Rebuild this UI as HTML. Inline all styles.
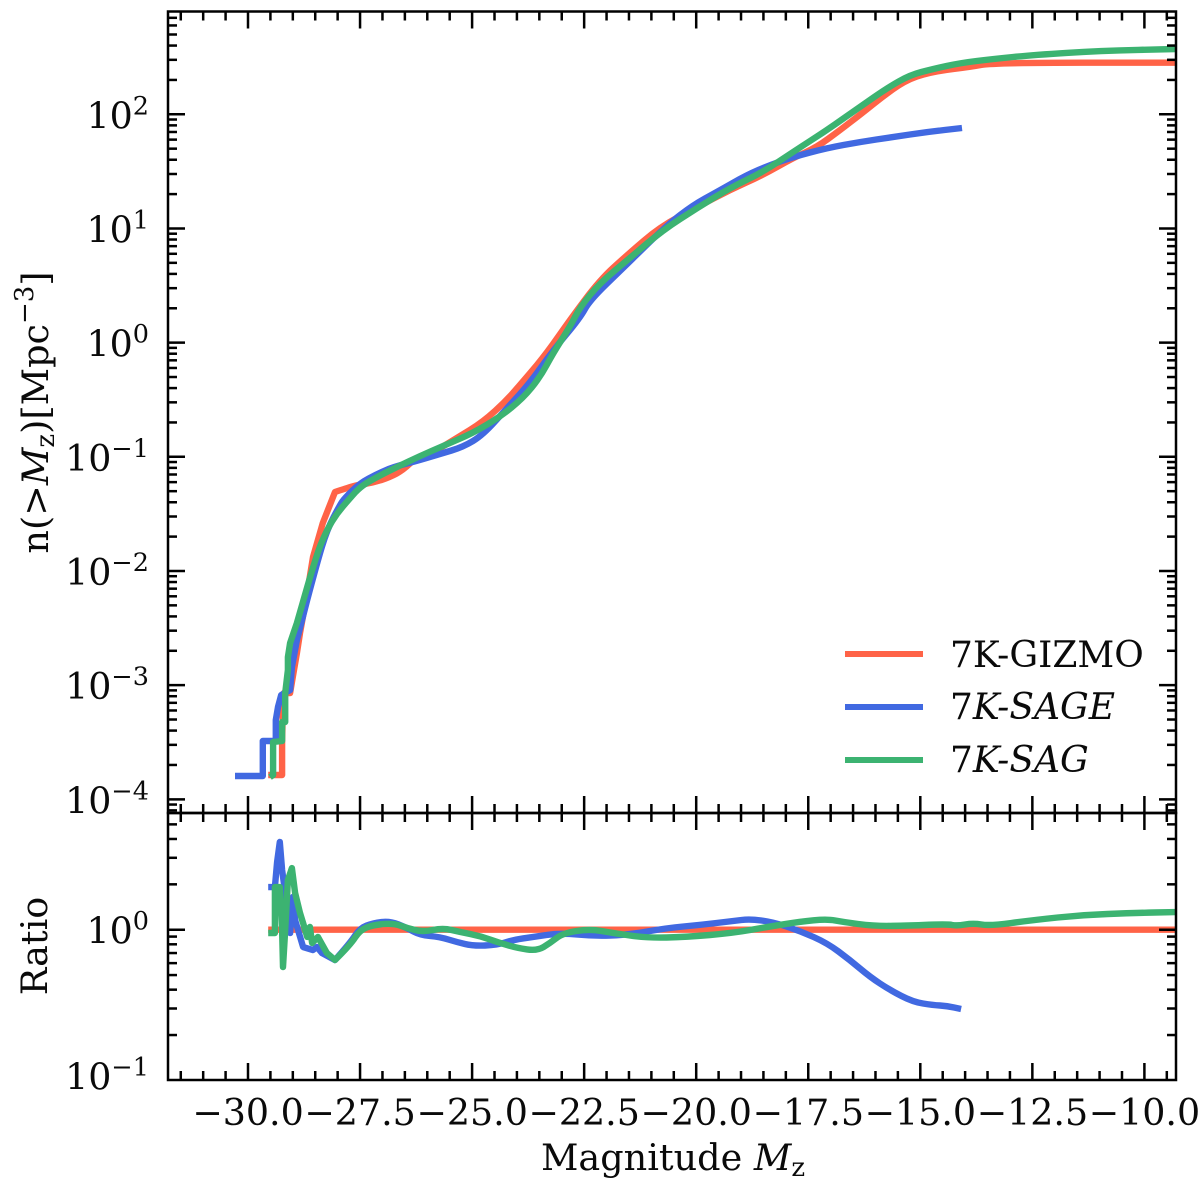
<!DOCTYPE html>
<html lang="en">
<head>
<meta charset="utf-8">
<title>Cumulative magnitude function chart</title>
<style>
  html, body { margin: 0; padding: 0; background: #fff; }
  #chart { display: block; width: 1200px; height: 1187px; font-family: "DejaVu Serif", "Liberation Serif", serif; fill: #000; }
  #chart text { fill: #0a0a0a; }
</style>
</head>
<body>
<svg id="chart" xmlns="http://www.w3.org/2000/svg" width="1200" height="1187" viewBox="0 0 1200 1187">
  <defs>
    <clipPath id="clip-main"><rect x="168" y="11.5" width="1008" height="801.5"></rect></clipPath>
    <clipPath id="clip-ratio"><rect x="168" y="813" width="1008" height="267"></rect></clipPath>
  </defs>
  <g id="main-series" clip-path="url(#clip-main)"></g>
  <g id="ratio-series" clip-path="url(#clip-ratio)"></g>
  <g id="ticks"></g>
  <rect x="168" y="11.5" width="1008" height="801.5" fill="none" stroke="#000" stroke-width="2.5"></rect>
  <rect x="168" y="813" width="1008" height="267" fill="none" stroke="#000" stroke-width="2.5"></rect>
  <g id="tick-labels"></g>

  <text transform="translate(48,412.5) rotate(-90)" text-anchor="middle" font-size="36.6">n(&gt;<tspan font-style="italic">M</tspan><tspan font-size="26" dy="6">z</tspan><tspan dy="-6">)[Mpc</tspan><tspan font-size="26" dy="-15">−3</tspan><tspan dy="15">]</tspan></text>
  <text transform="translate(47,946) rotate(-90)" text-anchor="middle" font-size="36.6">Ratio</text>
  <text x="673" y="1170" text-anchor="middle" font-size="36.6">Magnitude <tspan font-style="italic">M</tspan><tspan font-size="26" dy="6">z</tspan></text>

  <g>
    <g>
      <line x1="845" y1="654" x2="923" y2="654" stroke="#FF6347" stroke-width="6"></line>
      <text x="950" y="667" font-size="36">7K-GIZMO</text>
    </g>
    <g>
      <line x1="845" y1="707" x2="923" y2="707" stroke="#4169E1" stroke-width="6"></line>
      <text x="950" y="719" font-size="36">7<tspan font-style="italic">K-SAGE</tspan></text>
    </g>
    <g>
      <line x1="845" y1="760" x2="923" y2="760" stroke="#3CB371" stroke-width="6"></line>
      <text x="950" y="772" font-size="36">7<tspan font-style="italic">K-SAG</tspan></text>
    </g>
  </g>
</svg>
<script>
// ---- tick data ----
const xMajorTicks = [-30, -27.5, -25, -22.5, -20, -17.5, -15, -12.5, -10];
const xTickLabels = ['−30.0', '−27.5', '−25.0', '−22.5', '−20.0', '−17.5', '−15.0', '−12.5', '−10.0'];
const mainDecades = [-4, -3, -2, -1, 0, 1, 2];
const mainDecadeLabels = ['−4', '−3', '−2', '−1', '0', '1', '2'];
const ratioDecades = [-1, 0];
const ratioDecadeLabels = ['−1', '0'];

// ---- main panel: magnitude and log10 n(>Mz) ----
const gizmoMag = [-29.55,-29.24,-29.24,-29.22,-29.2,-29.06,-29,-28.91,-28.84,-28.68,-28.55,-28.33,-28.06,-27.79,-27.57,-27.21,-26.83,-26.54,-26.23,-25.78,-25.34,-24.76,-24.22,-23.78,-23.33,-22.82,-22.15,-21.54,-20.81,-19.98,-19.25,-18.51,-17.84,-17.3,-16.79,-16.35,-15.74,-15.23,-14.63,-13.89,-13.38,-9.3];
const gizmoLogN = [-3.787,-3.787,-3.489,-3.174,-3.069,-3.069,-2.929,-2.719,-2.544,-2.193,-1.878,-1.58,-1.308,-1.273,-1.247,-1.227,-1.177,-1.116,-1.002,-0.941,-0.835,-0.695,-0.503,-0.301,-0.091,0.198,0.549,0.768,1.013,1.188,1.337,1.468,1.617,1.714,1.862,1.994,2.187,2.318,2.379,2.414,2.452,2.452];

const sageMag = [-30.29,-29.67,-29.67,-29.38,-29.38,-29.33,-29.26,-29.06,-29.02,-28.91,-28.68,-28.46,-28.24,-27.95,-27.84,-27.5,-27.12,-26.76,-26.32,-25.72,-25.2,-24.76,-24.22,-23.71,-23.19,-22.59,-22.37,-21.63,-20.65,-20.07,-19.54,-18.87,-18.35,-17.84,-17.08,-16.35,-15.61,-14.85,-14.07];
const sageLogN = [-3.796,-3.796,-3.489,-3.489,-3.305,-3.191,-3.086,-3.043,-2.841,-2.605,-2.254,-1.93,-1.641,-1.422,-1.361,-1.23,-1.151,-1.089,-1.046,-0.976,-0.914,-0.809,-0.573,-0.354,-0.065,0.216,0.373,0.654,1.03,1.206,1.319,1.468,1.556,1.626,1.705,1.757,1.801,1.845,1.88];

const sagMag = [-29.51,-29.44,-29.44,-29.24,-29.24,-29.17,-29.17,-29.11,-29.11,-29.06,-28.91,-28.68,-28.46,-28.24,-28.01,-27.72,-27.5,-27.21,-26.68,-26.16,-25.65,-24.98,-24.38,-23.86,-23.48,-23.19,-22.82,-22.59,-22.15,-21.48,-20.74,-19.98,-19.25,-18.51,-17.84,-17.08,-16.35,-15.74,-15.23,-14.72,-14.11,-13.38,-12.49,-10.99,-9.3];
const sagLogN = [-3.805,-3.787,-3.498,-3.489,-3.323,-3.323,-3.069,-2.867,-2.754,-2.631,-2.456,-2.141,-1.843,-1.641,-1.492,-1.361,-1.265,-1.195,-1.089,-0.993,-0.905,-0.792,-0.651,-0.485,-0.301,-0.091,0.137,0.312,0.522,0.741,0.987,1.179,1.354,1.495,1.67,1.862,2.064,2.23,2.344,2.397,2.449,2.484,2.519,2.557,2.572];

// ---- ratio panel: magnitude and log10 ratio ----
const gizmoRatioMag = [-29.55, -9.3];
const gizmoRatioLog = [0, 0];

const sageRatioMag = [-29.55,-29.4,-29.35,-29.29,-29.24,-29.17,-29.06,-29,-28.95,-28.77,-28.55,-28.46,-28.35,-28.06,-27.72,-27.5,-27.21,-26.83,-26.45,-26.16,-25.72,-25.34,-24.98,-24.44,-24.09,-23.64,-23.04,-22.3,-21.54,-20.65,-19.92,-19.18,-18.8,-18.29,-17.68,-17.08,-16.57,-16.12,-15.68,-15.16,-14.72,-14.4,-14.09];
const sageRatioLog = [0.283,0.283,0.449,0.582,0.396,0.244,-0.022,0.217,0.064,-0.115,-0.135,-0.115,-0.155,-0.201,-0.088,0.011,0.044,0.058,0.011,-0.035,-0.048,-0.082,-0.108,-0.102,-0.068,-0.048,-0.022,-0.042,-0.035,0.011,0.031,0.058,0.071,0.051,-0.009,-0.088,-0.201,-0.314,-0.4,-0.48,-0.5,-0.506,-0.526];

const sagRatioMag = [-29.55,-29.4,-29.4,-29.29,-29.24,-29.22,-29.17,-29.11,-29.02,-28.95,-28.84,-28.77,-28.68,-28.62,-28.57,-28.44,-28.24,-28.06,-27.72,-27.5,-27.21,-26.76,-26.45,-26.1,-25.65,-25.27,-24.82,-24.38,-24,-23.55,-23.26,-22.97,-22.37,-21.86,-21.1,-20.21,-19.18,-18.42,-17.68,-17.08,-16.72,-16.05,-15.45,-14.4,-14.18,-13.82,-13.45,-12.49,-11.38,-10.26,-9.3];
const sagRatioLog = [-0.022,-0.022,0.283,0.283,-0.002,-0.248,-0.002,0.33,0.409,0.244,0.111,0.044,-0.048,0.018,-0.088,-0.048,-0.155,-0.201,-0.102,-0.002,0.031,0.044,0.011,-0.015,0.011,-0.015,-0.042,-0.088,-0.121,-0.141,-0.088,-0.022,0.005,-0.022,-0.055,-0.048,-0.022,0.018,0.054,0.071,0.051,0.025,0.025,0.038,0.025,0.044,0.025,0.064,0.098,0.111,0.117];

// ---- axes ----
function xScale(m) { return 248 + (m + 30) * 44.82; }
function yMain(l) { return 114.3 + (2 - l) * 114.17; }
function yRatio(l) { return 929.7 - l * 150.7; }

const NS = 'http://www.w3.org/2000/svg';
const tickGroup = document.getElementById('ticks');
const labelGroup = document.getElementById('tick-labels');

function addTick(name, x1, y1, x2, y2) {
  const el = document.createElementNS(NS, 'line');
  
  
  el.setAttribute('x1', x1);
  el.setAttribute('y1', y1);
  el.setAttribute('x2', x2);
  el.setAttribute('y2', y2);
  el.setAttribute('stroke', '#000');
  el.setAttribute('stroke-width', '2.5');
  tickGroup.appendChild(el);
}

// Straight segments through the noisy bright end, smoothed through the rest.
function buildPath(xs, ys, yFn, smoothFrom) {
  const px = xs.map(xScale);
  const py = ys.map(yFn);
  let d = 'M' + px[0].toFixed(1) + ' ' + py[0].toFixed(1);
  for (let i = 1; i < px.length; i++) {
    if (xs[i] < smoothFrom || i === px.length - 1) {
      d += 'L' + px[i].toFixed(1) + ' ' + py[i].toFixed(1);
    } else {
      const mx = (px[i] + px[i + 1]) / 2;
      const my = (py[i] + py[i + 1]) / 2;
      d += 'Q' + px[i].toFixed(1) + ' ' + py[i].toFixed(1) + ' ' + mx.toFixed(1) + ' ' + my.toFixed(1);
    }
  }
  return d;
}

function addSeries(parentId, name, color, xs, ys, yFn, smoothFrom) {
  const el = document.createElementNS(NS, 'path');
  
  
  el.setAttribute('d', buildPath(xs, ys, yFn, smoothFrom));
  el.setAttribute('fill', 'none');
  el.setAttribute('stroke', color);
  el.setAttribute('stroke-width', '6.4');
  el.setAttribute('stroke-linejoin', 'round');
  el.setAttribute('stroke-linecap', 'butt');
  document.getElementById(parentId).appendChild(el);
}

// x ticks on all panel edges
function drawXTicks(pos, len) {
  addTick('x-tick-main-top', pos, 11.5, pos, 11.5 + len);
  addTick('x-tick-main-bottom', pos, 813, pos, 813 - len);
  addTick('x-tick-ratio-top', pos, 813, pos, 813 + len);
  addTick('x-tick-ratio-bottom', pos, 1080, pos, 1080 - len);
}
xMajorTicks.forEach(function (m) { drawXTicks(xScale(m), 17); });
for (let k = -63; k <= -19; k++) {
  const m = k / 2;
  if (xMajorTicks.indexOf(m) === -1) { drawXTicks(xScale(m), 9); }
}

// y ticks, log scale
function drawYTicks(name, yFn, decades, top, bottom) {
  const first = decades[0] - 1;
  const last = decades[decades.length - 1] + 1;
  for (let d = first; d <= last; d++) {
    for (let mult = 1; mult <= 9; mult++) {
      const pos = yFn(d + Math.log10(mult));
      if (pos <= top + 1 || pos >= bottom - 1) continue;
      const len = mult === 1 ? 17 : 9;
      addTick(name + '-left', 168, pos, 168 + len, pos);
      addTick(name + '-right', 1176, pos, 1176 - len, pos);
    }
  }
}
drawYTicks('y-tick-main', yMain, mainDecades, 11.5, 813);
drawYTicks('y-tick-ratio', yRatio, ratioDecades, 813, 1081);

// tick labels
xMajorTicks.forEach(function (m, i) {
  const el = document.createElementNS(NS, 'text');
  
  
  el.setAttribute('x', xScale(m));
  el.setAttribute('y', 1125);
  el.setAttribute('text-anchor', 'middle');
  el.setAttribute('font-size', '36.4');
  el.textContent = xTickLabels[i];
  labelGroup.appendChild(el);
});

function addPowerLabel(pos, exponent) {
  const el = document.createElementNS(NS, 'text');
  
  
  el.setAttribute('x', 149);
  el.setAttribute('y', pos + 14);
  el.setAttribute('text-anchor', 'end');
  el.setAttribute('font-size', '36.4');
  const base = document.createElementNS(NS, 'tspan');
  base.textContent = '10';
  const sup = document.createElementNS(NS, 'tspan');
  sup.setAttribute('font-size', '25.5');
  sup.setAttribute('dy', '-14');
  sup.textContent = exponent;
  el.appendChild(base);
  el.appendChild(sup);
  labelGroup.appendChild(el);
}
mainDecades.forEach(function (d, i) { addPowerLabel(yMain(d), mainDecadeLabels[i]); });
ratioDecades.forEach(function (d, i) { addPowerLabel(d === -1 ? yRatio(d) - 5 : yRatio(d), ratioDecadeLabels[i]); });

// series
addSeries('main-series', 'line-7k-gizmo', '#FF6347', gizmoMag, gizmoLogN, yMain, -27.9);
addSeries('main-series', 'line-7k-sage', '#4169E1', sageMag, sageLogN, yMain, -28.5);
addSeries('main-series', 'line-7k-sag', '#3CB371', sagMag, sagLogN, yMain, -28.5);
addSeries('ratio-series', 'ratio-line-7k-gizmo', '#FF6347', gizmoRatioMag, gizmoRatioLog, yRatio, 0);
addSeries('ratio-series', 'ratio-line-7k-sage', '#4169E1', sageRatioMag, sageRatioLog, yRatio, -28);
addSeries('ratio-series', 'ratio-line-7k-sag', '#3CB371', sagRatioMag, sagRatioLog, yRatio, -28);
</script>
</body>
</html>
